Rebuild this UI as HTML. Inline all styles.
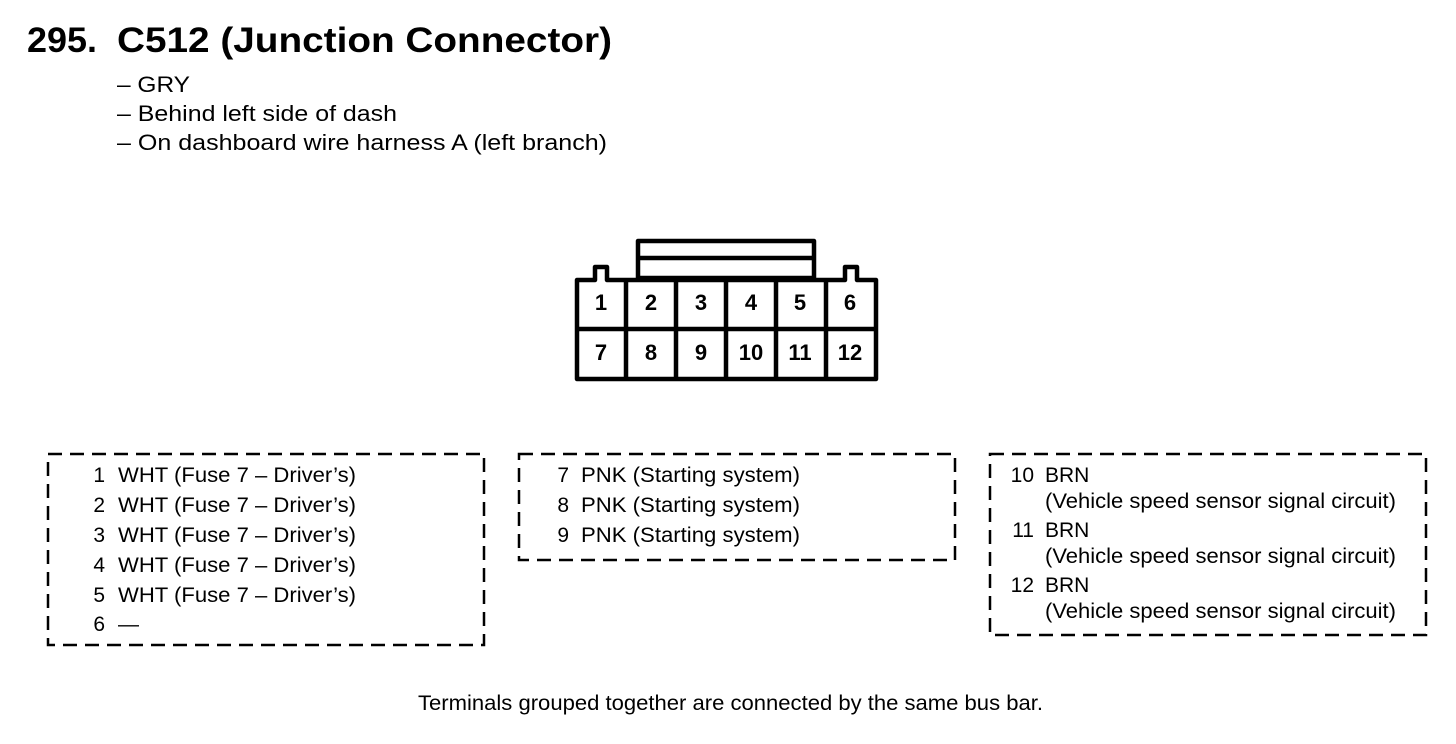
<!DOCTYPE html>
<html><head><style>
body{margin:0;background:#fff;}
svg{display:block;}
text{font-family:"Liberation Sans",Arial,sans-serif;fill:#000;}
</style></head><body>
<svg width="1456" height="744" viewBox="0 0 1456 744" xmlns="http://www.w3.org/2000/svg">
<text x="27" y="52" font-size="35" font-weight="bold" textLength="70" lengthAdjust="spacingAndGlyphs">295.</text>
<text x="117" y="52" font-size="35" font-weight="bold" textLength="495" lengthAdjust="spacingAndGlyphs">C512 (Junction Connector)</text>
<g font-size="22">
<text x="117" y="92" textLength="73" lengthAdjust="spacingAndGlyphs">– GRY</text>
<text x="117" y="121" textLength="280" lengthAdjust="spacingAndGlyphs">– Behind left side of dash</text>
<text x="117" y="150" textLength="490" lengthAdjust="spacingAndGlyphs">– On dashboard wire harness A (left branch)</text>
</g>
<g fill="none" stroke="#000" stroke-width="4.5" stroke-linejoin="round">
<rect x="638" y="241" width="176" height="37"/>
<line x1="638" y1="258" x2="814" y2="258"/>
<path d="M577 280 H595 V267 H607 V280 H845 V267 H857 V280 H876 V379 H577 Z" fill="#fff"/>
<line x1="577" y1="329" x2="876" y2="329"/>
<line x1="626" y1="280" x2="626" y2="379"/>
<line x1="676" y1="280" x2="676" y2="379"/>
<line x1="726" y1="280" x2="726" y2="379"/>
<line x1="776" y1="280" x2="776" y2="379"/>
<line x1="826" y1="280" x2="826" y2="379"/>
</g>
<g font-size="22" font-weight="bold" text-anchor="middle">
<text x="601" y="310">1</text><text x="651" y="310">2</text><text x="701" y="310">3</text><text x="751" y="310">4</text><text x="800" y="310">5</text><text x="850" y="310">6</text>
<text x="601" y="360">7</text><text x="651" y="360">8</text><text x="701" y="360">9</text><text x="751" y="360">10</text><text x="800" y="360">11</text><text x="850" y="360">12</text>
</g>
<g fill="none" stroke="#000" stroke-width="2.5" stroke-dasharray="14 8">
<rect x="48" y="454" width="436" height="191"/>
<rect x="519" y="454" width="436" height="106"/>
<rect x="990" y="454" width="436" height="181"/>
</g>
<g font-size="21">
<text x="105" y="482" text-anchor="end">1</text><text x="118" y="482" textLength="238" lengthAdjust="spacingAndGlyphs">WHT (Fuse 7 – Driver’s)</text>
<text x="105" y="512" text-anchor="end">2</text><text x="118" y="512" textLength="238" lengthAdjust="spacingAndGlyphs">WHT (Fuse 7 – Driver’s)</text>
<text x="105" y="542" text-anchor="end">3</text><text x="118" y="542" textLength="238" lengthAdjust="spacingAndGlyphs">WHT (Fuse 7 – Driver’s)</text>
<text x="105" y="572" text-anchor="end">4</text><text x="118" y="572" textLength="238" lengthAdjust="spacingAndGlyphs">WHT (Fuse 7 – Driver’s)</text>
<text x="105" y="602" text-anchor="end">5</text><text x="118" y="602" textLength="238" lengthAdjust="spacingAndGlyphs">WHT (Fuse 7 – Driver’s)</text>
<text x="105" y="631" text-anchor="end">6</text><text x="118" y="631">—</text>
<text x="569" y="482" text-anchor="end">7</text><text x="581" y="482" textLength="219" lengthAdjust="spacingAndGlyphs">PNK (Starting system)</text>
<text x="569" y="512" text-anchor="end">8</text><text x="581" y="512" textLength="219" lengthAdjust="spacingAndGlyphs">PNK (Starting system)</text>
<text x="569" y="542" text-anchor="end">9</text><text x="581" y="542" textLength="219" lengthAdjust="spacingAndGlyphs">PNK (Starting system)</text>
<text x="1034" y="482" text-anchor="end">10</text><text x="1045" y="482">BRN</text>
<text x="1045" y="508" textLength="351" lengthAdjust="spacingAndGlyphs">(Vehicle speed sensor signal circuit)</text>
<text x="1034" y="537" text-anchor="end">11</text><text x="1045" y="537">BRN</text>
<text x="1045" y="563" textLength="351" lengthAdjust="spacingAndGlyphs">(Vehicle speed sensor signal circuit)</text>
<text x="1034" y="592" text-anchor="end">12</text><text x="1045" y="592">BRN</text>
<text x="1045" y="618" textLength="351" lengthAdjust="spacingAndGlyphs">(Vehicle speed sensor signal circuit)</text>
<text x="418" y="710" textLength="625" lengthAdjust="spacingAndGlyphs">Terminals grouped together are connected by the same bus bar.</text>
</g>
</svg>
</body></html>
